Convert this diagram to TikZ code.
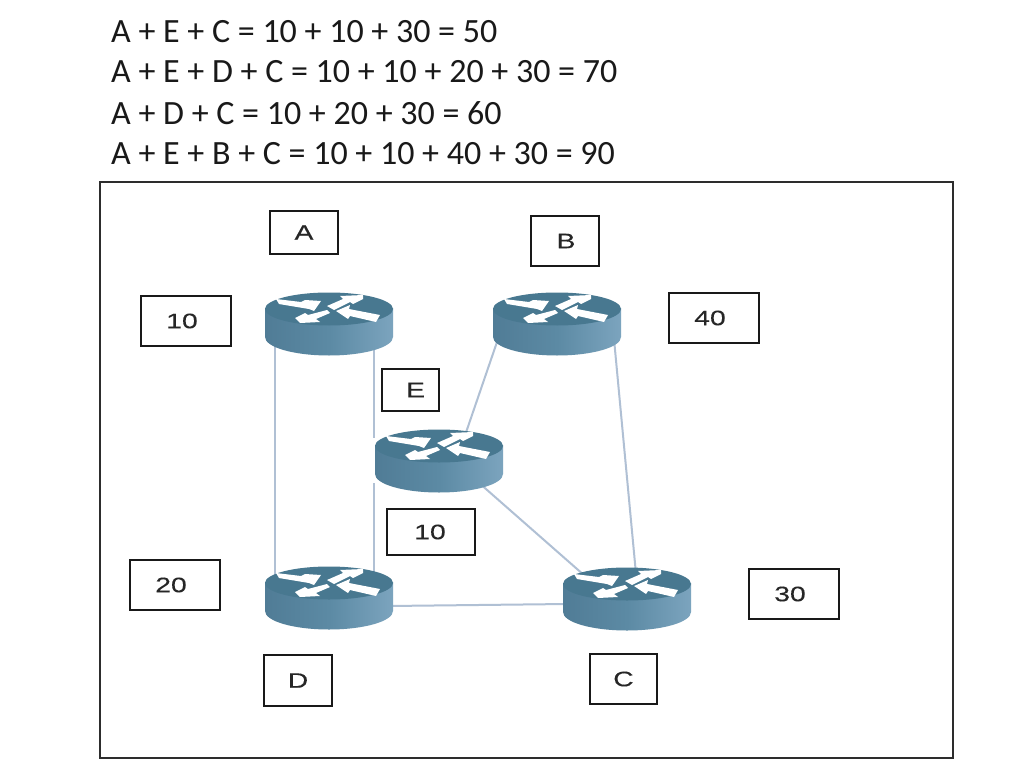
\documentclass[tikz,border=0pt]{standalone}
\usepackage{xcolor}
\usepackage{fontspec}
\setmainfont{Carlito}
\newfontfamily\boxfont[FakeStretch=1.35,FakeBold=0.25]{Liberation Sans}
\usetikzlibrary{positioning, backgrounds}
\definecolor{routertop}{RGB}{72,120,144}
\definecolor{routerside}{RGB}{92,138,164}
\definecolor{routerdark}{RGB}{80,124,150}
\definecolor{routerlight}{RGB}{124,164,190}
\definecolor{linkblue}{RGB}{176,192,212}
\definecolor{framegray}{RGB}{45,45,45}
\tikzset{
  labelbox/.style={rectangle, draw=black!90, line width=2pt, fill=white, inner sep=0pt,
    font=\boxfont\fontsize{21}{21}\selectfont, text=black!85},
  sumline/.style={anchor=west, inner sep=0pt, font=\fontsize{34}{34}\selectfont, text=black!90},
  link/.style={color=linkblue, line width=2pt},
  router/.style={rectangle, minimum width=128pt, minimum height=63pt, inner sep=0pt,
    path picture={
      \begin{scope}[shift={(path picture bounding box.center)}]
        % body
        \shade[left color=routerdark, right color=routerlight, middle color=routerside]
          (-64,-16) -- (-64,13) arc[start angle=180, end angle=0, x radius=64, y radius=18.5]
          -- (64,-16) -- cycle;
        % top
        \fill[routertop] (0,-15) ellipse[x radius=64, y radius=16.5];
        % arrows
        \fill[white] (-53,-25) -- (-28,-22) -- (-24,-24) -- (-8,-23) -- (-15,-13) -- (-20,-15) -- (-50,-20) -- cycle;
        \fill[white] (-2,-18) -- (14,-25) -- (11,-28) -- (34,-29) -- (34,-25) -- (24,-20) -- (21,-22) -- (5,-14) -- cycle;
        \fill[white] (-2,-14) -- (-21,-9) -- (-24,-11) -- (-34,-6) -- (-29,-1) -- (-9,-2) -- (-13,-5) -- (1,-11) -- cycle;
        \fill[white] (7,-13) -- (21,-19) -- (20,-15) -- (51,-9) -- (47,-2) -- (21,-8) -- (19,-5) -- cycle;
      \end{scope}
    }}
}
\begin{document}
\begin{tikzpicture}[x=1pt, y=-1pt]
  \useasboundingbox (0,0) rectangle (1024,767);

  % Sums
  \node[sumline] (suma) at (111,32) {A + E + C = 10 + 10 + 30 = 50};
  \node[sumline] (sumb) at (111,72) {A + E + D + C = 10 + 10 + 20 + 30 = 70};
  \node[sumline] (sumc) at (111,113) {A + D + C = 10 + 20 + 30 = 60};
  \node[sumline] (sumd) at (111,154) {A + E + B + C = 10 + 10 + 40 + 30 = 90};

  % Frame
  \draw[framegray, line width=1.6pt] (100,182) rectangle (953,758);

  % Routers
  \node[router] (ra) at (329,324) {};
  \node[router] (rb) at (557,324) {};
  \node[router] (re) at (439,461) {};
  \node[router] (rd) at (329,598) {};
  \node[router] (rc) at (627,599) {};

  % Links
  \begin{scope}[on background layer]
    \fill[white] (0,0) rectangle (1024,767);
    \draw[link] ([shift={(-54,0)}]ra.center) -- ([shift={(-54,0)}]rd.center);
    \draw[link] ([shift={(45,0)}]ra.center) -- ([shift={(-65,-23)}]re.center);
    \draw[link] ([shift={(-65,22)}]re.center) -- ([shift={(45,0)}]rd.center);
    \draw[link] ([shift={(-60,18)}]rb.center) -- ([shift={(21,-11)}]re.center);
    \draw[link] ([shift={(39,21)}]re.center) -- ([shift={(-42,-23)}]rc.center);
    \draw[link] ([shift={(57,15)}]rb.center) -- ([shift={(9,-25)}]rc.center);
    \draw[link] ([shift={(60,8)}]rd.center) -- ([shift={(-60,5)}]rc.center);
  \end{scope}

  % Labels
  \node[labelbox, minimum width=68pt, minimum height=43pt] (boxa) at (304,232.5) {\raisebox{-2pt}{A}};
  \node[labelbox, minimum width=68pt, minimum height=50pt] (boxb) at (565,241) {\hspace*{2pt}B};
  \node[labelbox, minimum width=90pt, minimum height=50pt] (boxten) at (186,321) {10\hspace*{8pt}};
  \node[labelbox, minimum width=90pt, minimum height=50pt] (boxforty) at (714,318) {40\hspace*{8pt}};
  \node[labelbox, minimum width=57pt, minimum height=42pt] (boxe) at (410.5,390) {\hspace*{10pt}\raisebox{-3pt}{E}};
  \node[labelbox, minimum width=88pt, minimum height=46pt] (boxtenb) at (431,532) {10\hspace*{2pt}};
  \node[labelbox, minimum width=90pt, minimum height=50pt] (boxtwenty) at (175,585) {20\hspace*{8pt}};
  \node[labelbox, minimum width=90pt, minimum height=50pt] (boxthirty) at (794,594) {30\hspace*{8pt}};
  \node[labelbox, minimum width=68pt, minimum height=51pt] (boxd) at (298,680.5) {D};
  \node[labelbox, minimum width=67pt, minimum height=50pt] (boxc) at (623.5,679) {C};
\end{tikzpicture}
\end{document}
